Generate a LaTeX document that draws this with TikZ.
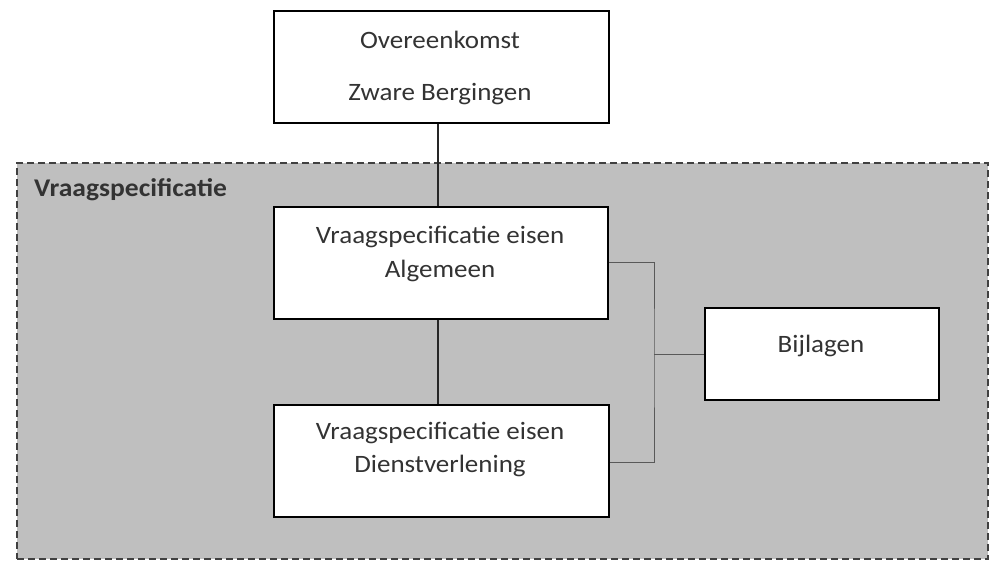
\documentclass[tikz,border=0pt]{standalone}
\usepackage{fontspec}
\setmainfont[FakeStretch=1.08]{Carlito}
\begin{document}
\begin{tikzpicture}[x=1pt,y=-1pt,
  box/.style={draw=black,line width=1.6pt,fill=white,inner sep=0pt},
  txt/.style={font=\fontsize{25}{29}\selectfont,text=black!80,inner sep=0pt},
  link/.style={draw=black!85,line width=1.5pt},
  brace/.style={draw=black!65,line width=1pt}]
\useasboundingbox (0,0) rectangle (990,560);
\fill[white] (0,0) rectangle (990,560);
% group region
\node[draw=black!75,dash pattern=on 7pt off 4pt,line width=2pt,fill=black!25,minimum width=971pt,minimum height=396pt,inner sep=0pt,anchor=north west] (grp) at (16,162) {};
\node[txt,font=\fontsize{25.5}{29}\selectfont\bfseries,anchor=west] (grplbl) at (34,190) {Vraagspecificatie};
% boxes
\node[box,minimum width=335pt,minimum height=112pt,anchor=north west] (top) at (273,10) {};
\node[txt] (t1) at (440,40) {Overeenkomst};
\node[txt] (t2) at (440,94) {Zware Bergingen};
\node[box,minimum width=334pt,minimum height=112pt,anchor=north west] (alg) at (273,206) {};
\node[txt] (a1) at (440,237) {Vraagspecificatie eisen};
\node[txt] (a2) at (440,271) {Algemeen};
\node[box,minimum width=335pt,minimum height=112pt,anchor=north west] (dst) at (273,404) {};
\node[txt] (d1) at (440,433) {Vraagspecificatie eisen};
\node[txt] (d2) at (440,466) {Dienstverlening};
\node[box,minimum width=234pt,minimum height=92pt,anchor=north west] (bij) at (704,307) {};
\node[txt] (b1) at (821,346) {Bijlagen};
% connectors
\coordinate (j) at (654,354);
\draw[link] (top.south -| 438,0) -- (alg.north -| 438,0);
\draw[link] (alg.south -| 438,0) -- (dst.north -| 438,0);
\draw[brace] (alg.east |- 0,262) -| (j) |- (dst.east |- 0,462);
\draw[brace] (j) -- (bij.west |- j);
\end{tikzpicture}
\end{document}
